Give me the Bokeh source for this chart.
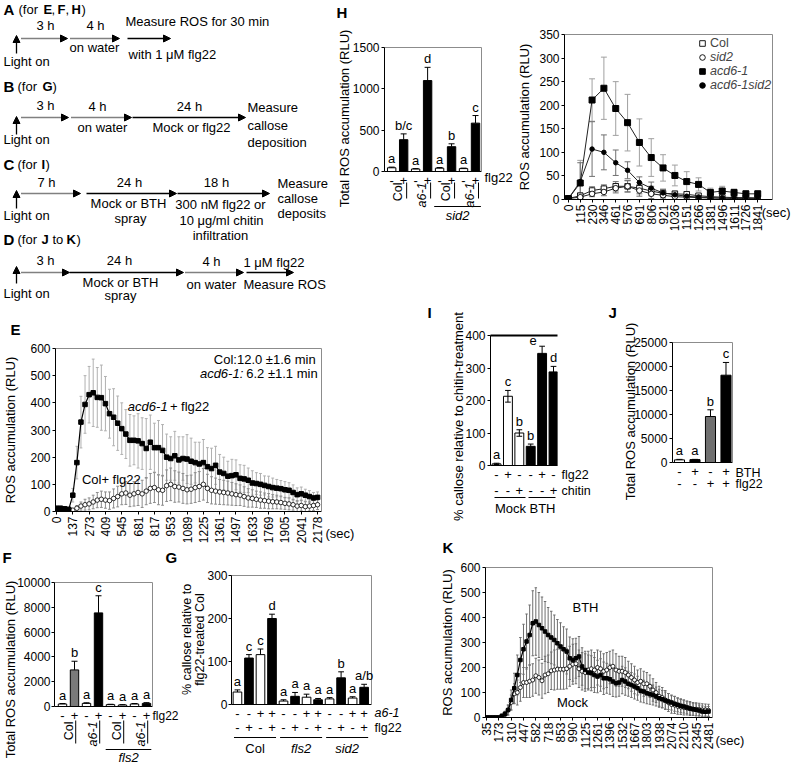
import math
from bokeh.plotting import figure
from bokeh.models import (Range1d, FixedTicker, Arrow, NormalHead, LinearAxis,
                          Legend, LegendItem)
from bokeh.layouts import row, column
from bokeh.core.properties import value
from bokeh.embed import file_html
from bokeh.resources import INLINE

FONT = "Liberation Sans"
S = 0.9985
VERT = math.pi / 2


def sc(v):
    return int(round(v * S))

# ====================== DATA ======================
# ---- E : ROS time course (acd6-1 vs Col) ----
e_time_labels = ["0", "137", "273", "409", "545", "681", "817", "953", "1089", "1225",
                 "1361", "1497", "1633", "1769", "1905", "2041", "2178"]
e_acd6 = [12, 12, 10, 8, 60, 180, 329, 394, 430, 437, 420, 419, 397, 360, 347, 325,
          305, 285, 262, 262, 260, 250, 232, 255, 235, 235, 225, 200, 195, 205, 190, 195,
          193, 185, 180, 175, 180, 165, 158, 170, 145, 140, 130, 132, 135, 122, 120, 115,
          105, 103, 100, 96, 92, 88, 86, 84, 80, 78, 70, 62, 65, 60, 55, 50, 52]
e_acd6_sd = [8, 8, 6, 6, 25, 60, 95, 106, 104, 124, 110, 120, 100, 90, 105, 100,
             95, 90, 95, 90, 100, 95, 110, 100, 90, 100, 95, 85, 80, 90, 85, 80,
             90, 85, 75, 80, 85, 70, 75, 70, 65, 60, 55, 60, 55, 50, 50, 45,
             45, 40, 40, 35, 38, 35, 32, 30, 30, 28, 28, 25, 25, 22, 22, 20, 20]
e_col = [8, 6, 5, 3, 5, 12, 20, 25, 28, 35, 42, 45, 42, 40, 48, 55,
         65, 68, 60, 65, 70, 65, 75, 85, 88, 80, 78, 95, 100, 92, 90, 85,
         80, 82, 88, 92, 100, 85, 78, 75, 72, 70, 68, 65, 62, 60, 55, 50,
         48, 45, 42, 40, 38, 36, 35, 33, 30, 28, 25, 20, 22, 18, 20, 22, 25]
e_col_sd = [3, 3, 3, 3, 6, 10, 15, 20, 22, 25, 28, 30, 30, 32, 35, 38,
            40, 42, 42, 45, 48, 50, 50, 55, 55, 55, 55, 58, 60, 58, 55, 55,
            52, 52, 55, 55, 58, 52, 50, 48, 46, 45, 44, 42, 40, 38, 36, 34,
            32, 30, 30, 28, 28, 26, 25, 24, 22, 22, 20, 20, 20, 18, 18, 18, 18]

# ---- F : total ROS ----
f_flg22 = ["-", "+", "-", "+", "-", "+", "-", "+"]
f_total = [200, 2950, 250, 7550, 150, 120, 200, 250]
f_sd = [40, 700, 50, 1380, 30, 30, 40, 60]
f_colors = ["white", "#7a7a7a", "white", "black", "white", "white", "white", "black"]
f_letters = ["a", "b", "a", "c", "a", "a", "a", "a"]
f_genotypes = ["Col", "a6-1", "Col", "a6-1"]

# ---- G : callose ----
g_a61 = ["-", "-", "+", "+"] * 3
g_flg22 = ["-", "+", "-", "+"] * 3
g_callose = [29, 108, 116, 200, 8, 19, 17, 11, 13, 62, 15, 40]
g_sd = [5, 8, 13, 10, 3, 9, 7, 3, 3, 14, 3, 7]
g_colors = ["white", "black", "white", "black"] * 3
g_letters = ["a", "c", "c", "d", "a", "a", "a", "a", "a", "b", "a", "a/b"]
g_groups = ["Col", "fls2", "sid2"]

# ---- H (left) : total ROS ----
hb_flg22 = ["-", "+"] * 4
hb_total = [45, 385, 30, 1100, 40, 300, 35, 585]
hb_sd = [8, 70, 5, 160, 8, 35, 6, 92]
hb_colors = ["white", "black"] * 4
hb_letters = ["a", "b/c", "a", "d", "a", "b", "a", "c"]
hb_genotypes = ["Col", "a6-1", "Col", "a6-1"]

# ---- H (right) : ROS time course ----
hl_time_labels = ["0", "115", "230", "346", "461", "576", "691", "806", "921", "1036",
                  "1151", "1266", "1381", "1496", "1611", "1726", "1841"]
hl_col = [2, 8, 19, 23, 28, 28, 24, 18, 13, 12, 11, 8, 6, 5, 4, 4, 3]
hl_col_sd = [1, 6, 8, 8, 10, 12, 12, 10, 8, 6, 5, 4, 3, 3, 2, 2, 2]
hl_sid2 = [2, 5, 12, 16, 24, 28, 19, 12, 9, 6, 5, 4, 3, 3, 2, 2, 2]
hl_sid2_sd = [1, 4, 6, 8, 10, 12, 12, 10, 8, 6, 5, 4, 3, 2, 2, 2, 2]
hl_acd6 = [2, 35, 211, 236, 193, 163, 121, 89, 67, 51, 38, 32, 15, 18, 15, 12, 12]
hl_acd6_sd = [1, 48, 45, 66, 57, 60, 50, 40, 28, 22, 21, 14, 9, 10, 7, 7, 7]
hl_dbl = [2, 38, 107, 100, 78, 62, 36, 24, 14, 10, 7, 5, 4, 3, 3, 3, 3]
hl_dbl_sd = [1, 40, 58, 37, 27, 18, 12, 13, 8, 6, 5, 4, 3, 2, 2, 2, 2]

# ---- I : callose relative to chitin ----
i_flg22 = ["-", "+", "-", "-", "+", "-"]
i_chitin = ["-", "-", "+", "-", "-", "+"]
i_callose = [5, 213, 100, 59, 345, 288]
i_sd = [2, 18, 10, 7, 22, 17]
i_colors = ["white", "white", "white", "black", "black", "black"]
i_letters = ["a", "c", "b", "b", "e", "d"]

# ---- J : total ROS with BTH ----
j_bth = ["-", "+", "-", "+"]
j_flg22 = ["-", "-", "+", "+"]
j_total = [550, 600, 9580, 18190]
j_sd = [100, 50, 1400, 2650]
j_colors = ["white", "black", "#707070", "black"]
j_letters = ["a", "a", "b", "c"]

# ---- K : ROS time course BTH vs Mock ----
k_time_labels = ["35", "173", "310", "447", "582", "718", "853", "990", "1125", "1261",
                 "1396", "1532", "1667", "1803", "1938", "2074", "2210", "2345", "2481"]
k_bth = [0, 0, 0, 0, 0, 7, 15, 30, 70, 117, 170, 230, 273, 304, 330,
         377, 384, 370, 357, 344, 330, 320, 310, 297, 284, 273, 264, 237, 230, 237,
         244, 204, 190, 180, 177, 170, 164, 170, 157, 157, 153, 144, 137, 140, 150,
         144, 135, 130, 124, 117, 107, 104, 97, 93, 90, 84, 77, 73, 68, 64,
         60, 55, 51, 47, 44, 40, 36, 33, 31, 28, 24, 23, 24]
k_bth_sd = [0, 0, 0, 0, 0, 5, 10, 20, 40, 60, 80, 90, 100, 110, 120,
            130, 135, 130, 125, 120, 110, 105, 100, 95, 95, 90, 90, 85, 85, 80,
            80, 75, 75, 70, 70, 70, 65, 65, 65, 60, 60, 60, 55, 55, 55,
            55, 50, 50, 50, 48, 45, 45, 42, 40, 40, 38, 36, 35, 34, 32,
            30, 30, 28, 28, 26, 25, 25, 24, 24, 22, 22, 20, 20]
k_mock = [0, 0, 0, 0, 0, 5, 12, 30, 60, 95, 100, 120, 140, 140, 145,
          150, 167, 160, 147, 170, 175, 187, 190, 193, 193, 193, 195, 205, 213, 215,
          195, 185, 180, 190, 195, 190, 200, 195, 185, 190, 200, 205, 190, 185, 185,
          180, 170, 160, 150, 140, 145, 135, 135, 125, 110, 100, 85, 80, 70, 60,
          52, 50, 45, 42, 40, 38, 36, 34, 33, 32, 30, 30, 29]
k_mock_sd = [0, 0, 0, 0, 0, 5, 10, 20, 30, 40, 50, 55, 60, 60, 65,
             65, 70, 70, 70, 75, 75, 75, 80, 80, 80, 80, 80, 80, 80, 80,
             75, 75, 75, 75, 75, 70, 70, 70, 70, 70, 65, 65, 65, 60, 60,
             60, 55, 55, 55, 50, 50, 50, 45, 45, 45, 40, 40, 40, 38, 36,
             35, 34, 32, 30, 30, 28, 28, 26, 26, 25, 25, 24, 24]

# ====================== HELPERS ======================

def make_panel(box, frame, xr, yr):
    bx0, by0, bx1, by1 = box
    fx0, fy0, fx1, fy1 = frame
    p = figure(width=sc(bx1) - sc(bx0), height=sc(by1) - sc(by0),
               x_range=Range1d(*xr), y_range=Range1d(*yr),
               min_border_left=sc(fx0) - sc(bx0), min_border_right=sc(bx1) - sc(fx1),
               min_border_top=sc(fy0) - sc(by0), min_border_bottom=sc(by1) - sc(fy1),
               output_backend="svg", toolbar_location=None, title=None,
               frame_align=False)
    p.grid.visible = False
    p.outline_line_color = None
    for ax in p.axis:
        ax.axis_line_color = "black"
        ax.major_tick_line_color = "black"
        ax.minor_tick_line_color = None
        ax.major_tick_out = 3
        ax.major_tick_in = 0
        ax.major_label_text_font = FONT
        ax.major_label_text_font_size = "12px"
        ax.major_label_text_color = "black"
        ax.major_label_standoff = 2
        ax.axis_label_text_font = FONT
        ax.axis_label_text_font_size = "13px"
        ax.axis_label_text_font_style = "normal"
        ax.axis_label_text_color = "black"
        ax.axis_label_standoff = 4

    def X(px):
        return xr[0] + (px - fx0) / (fx1 - fx0) * (xr[1] - xr[0])

    def Y(py):
        return yr[0] + (fy1 - py) / (fy1 - fy0) * (yr[1] - yr[0])
    ypp = (yr[1] - yr[0]) / (fy1 - fy0)
    return p, X, Y, ypp


def lab(p, x, y, s, size=13, align="center", baseline="middle", style="normal", angle=0.0):
    p.text(x=[x], y=[y], text=[s], angle=angle, text_font=value(FONT),
           text_font_size=value(f"{size}px"), text_font_style=value(style),
           text_align=value(align), text_baseline=value(baseline),
           text_color="black", level="overlay")


def rule(p, x0, y0, x1, y1, color="black", width=1.0):
    p.segment(x0=[x0], y0=[y0], x1=[x1], y1=[y1], line_color=color, line_width=width,
              level="overlay")


def frame_lines(p, sides=("above", "right"), color="#8c8c8c", width=1.0):
    for side in sides:
        p.add_layout(LinearAxis(ticker=FixedTicker(ticks=[]), axis_line_color=color,
                                axis_line_width=width, major_tick_line_color=None,
                                minor_tick_line_color=None, major_label_text_font_size="0px",
                                major_label_standoff=0), side)


def bar_xaxis(p, xs, labels):
    ax = p.below[0]
    ax.ticker = FixedTicker(ticks=xs)
    ax.major_label_overrides = {x: s for x, s in zip(xs, labels)}
    ax.major_tick_line_color = None
    ax.major_label_text_font_size = "13px"
    ax.major_label_standoff = 1


def time_xaxis(p, ticks, labels, size="12px"):
    ax = p.below[0]
    ax.ticker = FixedTicker(ticks=ticks)
    ax.major_label_overrides = {t: s for t, s in zip(ticks, labels)}
    ax.major_label_orientation = VERT
    ax.major_label_text_font_size = size


def bars(p, xs, vals, sd, colors, letters, ypp, width=0.75, cap=0.25, both=False, dx=None):
    p.vbar(x=xs, top=vals, bottom=0, width=width, fill_color=colors,
           line_color="black", line_width=1)
    hi = [v + e for v, e in zip(vals, sd)]
    lo = [v - e for v, e in zip(vals, sd)] if both else list(vals)
    p.segment(x0=xs, y0=lo, x1=xs, y1=hi, line_color="black", line_width=1)
    p.segment(x0=[x - cap for x in xs], y0=hi, x1=[x + cap for x in xs], y1=hi,
              line_color="black", line_width=1)
    if both:
        p.segment(x0=[x - cap for x in xs], y0=lo, x1=[x + cap for x in xs], y1=lo,
                  line_color="black", line_width=1)
    lx = [x + (dx[i] if dx else 0) for i, x in enumerate(xs)]
    p.text(x=lx, y=[h + 1 * ypp for h in hi], text=letters, text_font=value(FONT),
           text_font_size="13px", text_align="center", text_baseline="bottom",
           text_color="black", level="overlay")


def err_bars(p, xs, ys, sd, color, cap, width=1.0):
    lo = [y - s for y, s in zip(ys, sd)]
    hi = [y + s for y, s in zip(ys, sd)]
    p.segment(x0=xs, y0=lo, x1=xs, y1=hi, line_color=color, line_width=width)
    p.segment(x0=[x - cap for x in xs], y0=hi, x1=[x + cap for x in xs], y1=hi,
              line_color=color, line_width=width)
    p.segment(x0=[x - cap for x in xs], y0=lo, x1=[x + cap for x in xs], y1=lo,
              line_color=color, line_width=width)

# ====================== A-D : protocol diagrams ======================
pD = figure(width=sc(332), height=sc(304), x_range=Range1d(0, 332), y_range=Range1d(304, 0),
            x_axis_type=None, y_axis_type=None, min_border=0, output_backend="svg",
            toolbar_location=None, title=None, frame_align=False)
pD.outline_line_color = None

diag_texts = [
    # x, y, text, style, size, align
    (3, 9, "A", "bold", 15, "left"), (18, 9, "(for", "normal", 13, "left"),
    (43, 9, "E", "bold", 13, "left"), (51, 9, ",", "normal", 13, "left"),
    (57, 9, "F", "bold", 13, "left"), (65, 9, ",", "normal", 13, "left"),
    (71, 9, "H", "bold", 13, "left"), (81, 9, ")", "normal", 13, "left"),
    (45, 25, "3 h", "normal", 13, "center"), (95, 25, "4 h", "normal", 13, "center"),
    (125, 21, "Measure ROS for 30 min", "normal", 13, "left"),
    (94, 47, "on water", "normal", 13, "center"),
    (128, 54, "with 1 \u03bcM flg22", "normal", 13, "left"),
    (3, 61, "Light on", "normal", 13, "left"),

    (3, 86, "B", "bold", 15, "left"), (17, 86, "(for", "normal", 13, "left"),
    (42, 86, "G", "bold", 13, "left"), (52, 86, ")", "normal", 13, "left"),
    (45, 105, "3 h", "normal", 13, "center"), (97, 106, "4 h", "normal", 13, "center"),
    (189, 106, "24 h", "normal", 13, "center"),
    (247, 107, "Measure", "normal", 13, "left"), (247, 125, "callose", "normal", 13, "left"),
    (247, 142, "deposition", "normal", 13, "left"),
    (102, 127, "on water", "normal", 13, "center"),
    (191, 127, "Mock or flg22", "normal", 13, "center"),
    (3, 139, "Light on", "normal", 13, "left"),

    (3, 164, "C", "bold", 15, "left"), (17, 164, "(for", "normal", 13, "left"),
    (41, 164, "I", "bold", 13, "left"), (45, 164, ")", "normal", 13, "left"),
    (46, 182, "7 h", "normal", 13, "center"), (129, 182, "24 h", "normal", 13, "center"),
    (216, 182, "18 h", "normal", 13, "center"),
    (277, 183, "Measure", "normal", 13, "left"), (277, 198, "callose", "normal", 13, "left"),
    (277, 213, "deposits", "normal", 13, "left"),
    (128, 203, "Mock or BTH", "normal", 13, "center"), (130, 218, "spray", "normal", 13, "center"),
    (220, 204, "300 nM flg22 or", "normal", 13, "center"),
    (221, 220, "10 \u03bcg/ml chitin", "normal", 13, "center"),
    (220, 235, "infiltration", "normal", 13, "center"),
    (3, 215, "Light on", "normal", 13, "left"),

    (3, 239, "D", "bold", 15, "left"), (17, 239, "(for", "normal", 13, "left"),
    (41, 239, "J", "bold", 13, "left"), (52, 239, "to", "normal", 13, "left"),
    (66, 239, "K", "bold", 13, "left"), (76, 239, ")", "normal", 13, "left"),
    (45, 260, "3 h", "normal", 13, "center"), (119, 260, "24 h", "normal", 13, "center"),
    (211, 261, "4 h", "normal", 13, "center"),
    (243, 262, "1 \u03bcM flg22", "normal", 13, "left"),
    (120, 282, "Mock or BTH", "normal", 13, "center"), (120, 295, "spray", "normal", 13, "center"),
    (211, 284, "on water", "normal", 13, "center"),
    (243, 284, "Measure ROS", "normal", 13, "left"),
    (3, 293, "Light on", "normal", 13, "left"),
]
for (x, y, s, st, sz, al) in diag_texts:
    lab(pD, x, y, s, size=sz, align=al, style=st)

diag_arrows = [
    # x0, y0, x1, y1, dotted
    (21, 38, 67, 38, True), (70, 38, 119, 38, True), (127, 38, 170, 38, False), (16, 53, 16, 35, False),
    (21, 117, 68, 117, True), (71, 117, 131, 117, True), (132, 117, 245, 117, False), (16, 134, 16, 116, False),
    (21, 193, 80, 193, True), (86, 193, 176, 193, False), (177, 193, 269, 193, False), (16, 208, 16, 190, False),
    (21, 272, 69, 272, True), (69, 272, 183, 272, False), (185, 272, 243, 272, True),
    (246, 272, 293, 272, False), (16, 283, 16, 266, False),
]
for (x0, y0, x1, y1, dotted) in diag_arrows:
    pD.add_layout(Arrow(end=NormalHead(size=7, fill_color="black", line_color="black", line_width=1),
                        x_start=x0, y_start=y0, x_end=x1, y_end=y1, line_color="black",
                        line_width=1.5 if dotted else 1.3, line_dash="1 1" if dotted else "solid"))

# ====================== H left : bar chart ======================
pHB, XHB, YHB, yppHB = make_panel((332, 0, 515, 304), (385, 47, 482, 171), (0.4, 8.5), (0, 1500))
hb_x = list(range(1, len(hb_total) + 1))
bar_xaxis(pHB, hb_x, hb_flg22)
pHB.left[0].ticker = FixedTicker(ticks=[0, 500, 1000, 1500])
frame_lines(pHB)
bars(pHB, hb_x, hb_total, hb_sd, hb_colors, hb_letters, yppHB, width=0.7)
lab(pHB, XHB(345), YHB(118), "Total ROS accumulation (RLU)", angle=VERT)
lab(pHB, XHB(485), YHB(177), "flg22", align="left")
for k, g in enumerate(hb_genotypes):
    cx = hb_x[2 * k] + 0.5
    lab(pHB, cx, YHB(182), g, size=12.5, angle=VERT, align="right",
        style="normal" if g == "Col" else "italic")
    rule(pHB, cx + 0.75, YHB(182), cx + 0.75, YHB(198))
rule(pHB, 4.55, YHB(206), 8.45, YHB(206))
lab(pHB, 6.5, YHB(215), "sid2", style="italic")
lab(pHB, XHB(337), YHB(12), "H", size=15, align="left", style="bold")

# ====================== H right : time course ======================
pHL, XHL, YHL, yppHL = make_panel((515, 0, 797, 304), (562, 34, 773, 199), (-0.33, 17.25), (0, 350))
hl_x = list(range(len(hl_col)))
time_xaxis(pHL, hl_x, hl_time_labels)
pHL.left[0].ticker = FixedTicker(ticks=list(range(0, 351, 50)))
pHL.left[0].axis_label = "ROS accumulation (RLU)"
frame_lines(pHL)
err_bars(pHL, hl_x, hl_acd6, hl_acd6_sd, "#a0a0a0", 0.25)
err_bars(pHL, hl_x, hl_dbl, hl_dbl_sd, "#707070", 0.25)
err_bars(pHL, hl_x, hl_col, hl_col_sd, "#707070", 0.25)
err_bars(pHL, hl_x, hl_sid2, hl_sid2_sd, "#707070", 0.25)
for ys in (hl_col, hl_sid2, hl_dbl, hl_acd6):
    pHL.line(hl_x, ys, line_color="#222222", line_width=1)
r_col = pHL.scatter(hl_x, hl_col, marker="square", size=5.5, fill_color="white", line_color="black", line_width=0.9)
r_sid2 = pHL.scatter(hl_x, hl_sid2, marker="circle", size=5.5, fill_color="white", line_color="black", line_width=0.9)
r_dbl = pHL.scatter(hl_x, hl_dbl, marker="circle", size=4.5, fill_color="black", line_color="black")
r_acd6 = pHL.scatter(hl_x, hl_acd6, marker="square", size=6, fill_color="black", line_color="black")
leg1 = Legend(items=[LegendItem(label="Col", renderers=[r_col])],
              location=(sc(693 - 562), sc(199 - 50)))
leg2 = Legend(items=[LegendItem(label="sid2", renderers=[r_sid2]),
                     LegendItem(label="acd6-1", renderers=[r_acd6]),
                     LegendItem(label="acd6-1sid2", renderers=[r_dbl])],
              location=(sc(693 - 562), sc(199 - 92)), label_text_font_style="italic")
for lg in (leg1, leg2):
    lg.padding = 0
    lg.margin = 0
    lg.spacing = 0
    lg.glyph_height = 14
    lg.glyph_width = 14
    lg.label_height = 14
    lg.label_standoff = 1
    lg.label_text_font = FONT
    lg.label_text_font_size = "12.5px"
    lg.border_line_color = None
    lg.background_fill_alpha = 0
    pHL.add_layout(lg)
lab(pHL, XHL(762), YHL(212), "(sec)", align="left")

# ====================== E : time course ======================
pE, XE, YE, yppE = make_panel((0, 304, 410, 550), (49, 349, 321, 512), (-0.24, 64.96), (0, 600))
e_x = list(range(len(e_acd6)))
time_xaxis(pE, list(range(0, len(e_acd6), 4)), e_time_labels)
pE.left[0].ticker = FixedTicker(ticks=list(range(0, 601, 100)))
pE.left[0].axis_label = "ROS accumulation (RLU)"
pE.left[0].axis_label_standoff = 9
frame_lines(pE)
err_bars(pE, e_x, e_acd6, e_acd6_sd, "#b0b0b0", 0.35)
err_bars(pE, e_x, e_col, e_col_sd, "#8c8c8c", 0.35)
pE.line(e_x, e_col, line_color="black", line_width=1)
pE.scatter(e_x, e_col, marker="circle", size=4.5, fill_color="white", line_color="black", line_width=0.8)
pE.line(e_x, e_acd6, line_color="black", line_width=1.2)
pE.scatter(e_x, e_acd6, marker="square", size=4.5, fill_color="black", line_color="black")
lab(pE, XE(3), YE(330), "E", size=15, align="left", style="bold")
lab(pE, XE(315), YE(360), "Col:12.0 \u00b11.6 min", align="right")
lab(pE, XE(241), YE(374), "acd6-1:", align="right", style="italic")
lab(pE, XE(244), YE(374), "6.2 \u00b11.1 min", align="left")
lab(pE, XE(123), YE(407), "acd6-1", align="left", style="italic")
lab(pE, XE(166), YE(407), "+ flg22", align="left")
lab(pE, XE(76), YE(480), "Col+ flg22", align="left")
lab(pE, XE(325), YE(534), "(sec)", align="left")

# ====================== F : bar chart ======================
pF, XF, YF, yppF = make_panel((0, 550, 179, 767), (54, 583, 152, 707), (0.333, 8.5), (0, 10000))
f_x = list(range(1, len(f_total) + 1))
bar_xaxis(pF, f_x, f_flg22)
pF.left[0].ticker = FixedTicker(ticks=[0, 2000, 4000, 6000, 8000, 10000])
pF.left[0].major_label_standoff = 1
frame_lines(pF)
bars(pF, f_x, f_total, f_sd, f_colors, f_letters, yppF, width=0.7)
lab(pF, XF(10), YF(670), "Total ROS accumulation (RLU)", angle=VERT)
lab(pF, XF(152), YF(716), "flg22", size=12, align="left")
for k, g in enumerate(f_genotypes):
    cx = f_x[2 * k] + 0.5
    lab(pF, cx, YF(722), g, size=12.5, angle=VERT, align="right",
        style="normal" if g == "Col" else "italic")
    rule(pF, cx + 0.6, YF(721), cx + 0.6, YF(744))
rule(pF, 4.6, YF(750), 8.4, YF(750))
lab(pF, 6.5, YF(758), "fls2", style="italic")
lab(pF, XF(2), YF(558), "F", size=15, align="left", style="bold")
lab(pF, XF(165), YF(558), "G", size=15, align="left", style="bold")

# ====================== G : bar chart ======================
pG, XG, YG, yppG = make_panel((179, 550, 410, 767), (231, 576, 372, 705), (0.483, 12.64), (0, 300))
g_x = list(range(1, len(g_callose) + 1))
bar_xaxis(pG, g_x, g_a61)
pG.left[0].ticker = FixedTicker(ticks=[0, 100, 200, 300])
pG.left[0].major_label_standoff = 1
frame_lines(pG)
bars(pG, g_x, g_callose, g_sd, g_colors, g_letters, yppG, width=0.75)
lab(pG, XG(186), YG(640), "% callose relative to", size=12.5, angle=VERT)
lab(pG, XG(199.5), YG(640), "flg22-treated Col", size=12.5, angle=VERT)
lab(pG, XG(375), YG(713), "a6-1", size=12.5, align="left", style="italic")
for x, s in zip(g_x, g_flg22):
    lab(pG, x, YG(728), s)
lab(pG, XG(375), YG(728), "flg22", size=12.5, align="left")
for k, name in enumerate(g_groups):
    x0 = g_x[4 * k] - 0.3
    x1 = g_x[4 * k + 3] + 0.35
    rule(pG, x0, YG(738), x1, YG(738))
    lab(pG, (x0 + x1) / 2, YG(749), name, style="normal" if name == "Col" else "italic")

# ====================== I : bar chart ======================
pI, XI, YI, yppI = make_panel((410, 304, 597, 538), (491, 336, 558, 466), (0.47, 6.35), (0, 400))
i_x = list(range(1, len(i_callose) + 1))
bar_xaxis(pI, i_x, i_flg22)
pI.left[0].ticker = FixedTicker(ticks=[0, 100, 200, 300, 400])
frame_lines(pI, sides=("above",), color="black", width=2)
bars(pI, i_x, i_callose, i_sd, i_colors, i_letters, yppI, width=0.78, both=True,
     dx=[0, 0, 0, 0, -0.8, 0])
lab(pI, XI(459), YI(417), "% callose relative to chitin-treatment", angle=VERT)
for x, s in zip(i_x, i_chitin):
    lab(pI, x, YI(491), s)
lab(pI, XI(562), YI(475), "flg22", size=12.5, align="left")
lab(pI, XI(562), YI(491), "chitin", size=12.5, align="left")
rule(pI, XI(495), YI(498), XI(526), YI(498))
rule(pI, XI(529), YI(498), XI(556), YI(498))
lab(pI, XI(511), YI(509), "Mock")
lab(pI, XI(543), YI(509), "BTH")
lab(pI, XI(428), YI(313), "I", size=15, align="left", style="bold")

# ====================== J : bar chart ======================
pJ, XJ, YJ, yppJ = make_panel((597, 304, 797, 538), (673, 343, 733, 463), (0.55, 4.42), (0, 25000))
j_x = list(range(1, len(j_total) + 1))
bar_xaxis(pJ, j_x, j_bth)
pJ.left[0].ticker = FixedTicker(ticks=[0, 5000, 10000, 15000, 20000, 25000])
frame_lines(pJ)
bars(pJ, j_x, j_total, j_sd, j_colors, j_letters, yppJ, width=0.65, cap=0.2)
lab(pJ, XJ(631), YJ(412), "Total ROS accumulation (RLU)", angle=VERT)
for x, s in zip(j_x, j_flg22):
    lab(pJ, x, YJ(484), s)
lab(pJ, XJ(736), YJ(473), "BTH", size=12.5, align="left")
lab(pJ, XJ(736), YJ(484), "flg22", size=12.5, align="left")
lab(pJ, XJ(609), YJ(313), "J", size=15, align="left", style="bold")

# ====================== K : time course ======================
pK, XK, YK, yppK = make_panel((410, 538, 797, 767), (486, 568, 713, 718), (-0.32, 73.3), (0, 600))
k_x = list(range(len(k_bth)))
time_xaxis(pK, list(range(0, len(k_bth), 4)), k_time_labels)
pK.left[0].ticker = FixedTicker(ticks=list(range(0, 601, 100)))
pK.left[0].axis_label = "ROS accumulation (RLU)"
pK.left[0].axis_label_standoff = 2
frame_lines(pK)
err_bars(pK, k_x, k_bth, k_bth_sd, "#6e6e6e", 0.4)
err_bars(pK, k_x, k_mock, k_mock_sd, "#6e6e6e", 0.4)
pK.line(k_x, k_mock, line_color="black", line_width=1)
pK.scatter(k_x, k_mock, marker="circle", size=4, fill_color="white", line_color="black", line_width=0.8)
pK.line(k_x, k_bth, line_color="black", line_width=1.2)
pK.scatter(k_x, k_bth, marker="square", size=3.5, fill_color="black", line_color="black")
lab(pK, XK(586), YK(608), "BTH")
lab(pK, XK(573), YK(703), "Mock")
lab(pK, XK(716), YK(741), "(sec)", align="left")
lab(pK, XK(443), YK(548), "K", size=15, align="left", style="bold")

# ====================== LAYOUT ======================
top = row(pD, pHB, pHL)
left = column(pE, row(pF, pG))
right = column(row(pI, pJ), pK)
layout = column(top, row(left, right))

open("out.html", "w").write(file_html(layout, INLINE, title="figure"))
